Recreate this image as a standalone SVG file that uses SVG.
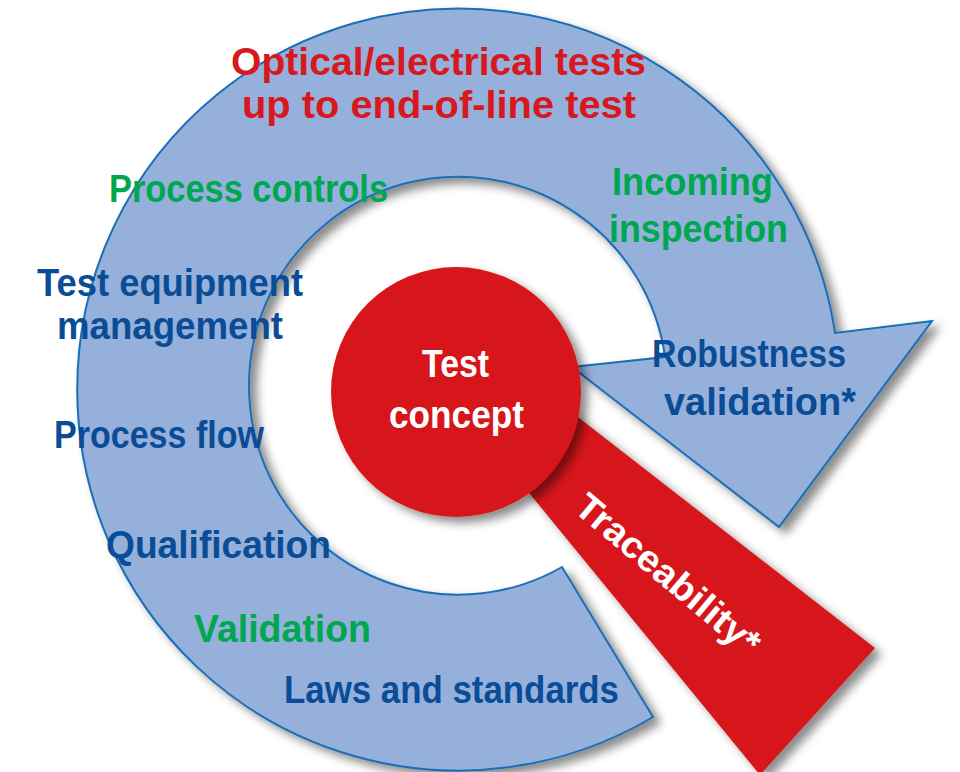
<svg xmlns="http://www.w3.org/2000/svg" width="960" height="772" viewBox="0 0 960 772">
<defs>
<filter id="sh" x="-20%" y="-20%" width="140%" height="140%">
<feDropShadow dx="7" dy="6" stdDeviation="5" flood-color="#000" flood-opacity="0.45"/>
</filter>
<style>
text{font-family:"Liberation Sans","Noto Sans",sans-serif;font-weight:700;}
.b{fill:#0b4c96;font-size:38px;}
.g{fill:#00a650;font-size:38px;}
.r{fill:#d7181f;font-size:38px;}
.w{fill:#ffffff;font-size:39px;}
</style>
</defs>
<rect width="960" height="772" fill="#ffffff"/>
<g id="connectors">
<g id="ring" filter="url(#sh)">
<path d="M653,717 A381,381 0 1 1 835,333 L932,321 L779,527 L572,367 L665,357 A209,209 0 1 0 562,567 Z" fill="#94b0db" stroke="#1b6eb5" stroke-width="2" stroke-linejoin="miter"/>
</g>
</g>
<g id="traceability" filter="url(#sh)">
<polygon points="520,372 875,648 760,775 480,433" fill="#d7181f"/>
</g>
<g id="test-concept" filter="url(#sh)">
<circle cx="456" cy="392" r="125" fill="#d7181f"/>
</g>
<g id="labels">
<text class="r" x="231" y="75" textLength="415" lengthAdjust="spacingAndGlyphs">Optical/electrical tests</text>
<text class="r" x="242" y="118" textLength="394" lengthAdjust="spacingAndGlyphs">up to end-of-line test</text>
<text class="g" x="109" y="202" textLength="279" lengthAdjust="spacingAndGlyphs">Process controls</text>
<text class="b" x="37" y="296" textLength="266" lengthAdjust="spacingAndGlyphs">Test equipment</text>
<text class="b" x="57" y="339" textLength="226" lengthAdjust="spacingAndGlyphs">management</text>
<text class="b" x="54" y="448" textLength="210" lengthAdjust="spacingAndGlyphs">Process flow</text>
<text class="b" x="106" y="558" textLength="225" lengthAdjust="spacingAndGlyphs">Qualification</text>
<text class="g" x="194" y="642" textLength="177" lengthAdjust="spacingAndGlyphs">Validation</text>
<text class="b" x="284" y="703" textLength="335" lengthAdjust="spacingAndGlyphs">Laws and standards</text>
<text class="g" x="612" y="195" textLength="161" lengthAdjust="spacingAndGlyphs">Incoming</text>
<text class="g" x="609" y="242" textLength="179" lengthAdjust="spacingAndGlyphs">inspection</text>
<text class="b" x="652" y="367" textLength="194" lengthAdjust="spacingAndGlyphs">Robustness</text>
<text class="b" x="664" y="415" textLength="192" lengthAdjust="spacingAndGlyphs">validation*</text>
<text class="w" x="422" y="377" textLength="67" lengthAdjust="spacingAndGlyphs">Test</text>
<text class="w" x="389" y="428" textLength="135" lengthAdjust="spacingAndGlyphs">concept</text>
<text class="w" x="0" y="0" text-anchor="middle" textLength="229" lengthAdjust="spacingAndGlyphs" transform="translate(660,584) rotate(40)" style="font-size:37px">Traceability*</text>
</g>
</svg>
